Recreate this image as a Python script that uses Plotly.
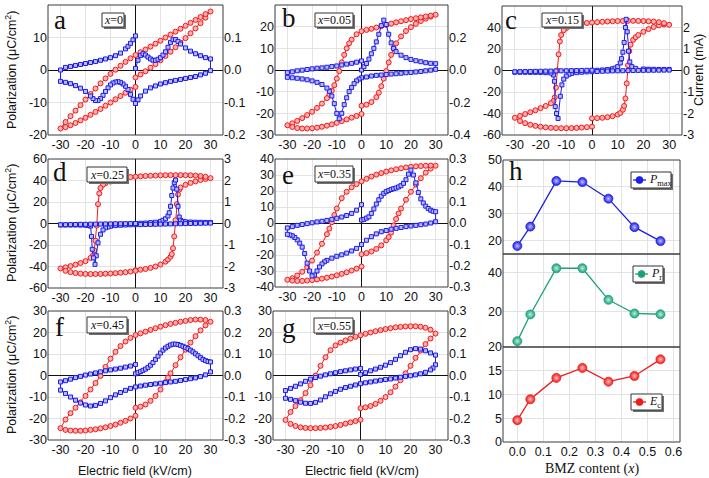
import plotly.graph_objects as go

W, H = 709, 478
RED = '#f21a1a'
RED_FILL = '#ffb0b0'
BLUE = '#1e1ee6'
BLUE_FILL = '#b8b8ff'
GREEN = '#1f9f7c'
FRAME = '#3a3a3a'
GRID = '#e3e3e3'
SANS = 'Liberation Sans, Arial, sans-serif'
SERIF = 'Liberation Serif, Times New Roman, serif'

# ---------------- tick values / labels ----------------
E_TICKS = [-30, -20, -10, 0, 10, 20, 30]
E_TICK_TEXT = ['-30', '-20', '-10', '0', '10', '20', '30']
P20_T = [-20, -10, 0, 10, 20]
P20_TT = ['-20', '-10', '0', '10', '20']
P30_T = [-30, -20, -10, 0, 10, 20, 30]
P30_TT = ['-30', '-20', '-10', '0', '10', '20', '30']
P40_T = [-40, -30, -20, -10, 0, 10, 20, 30, 40]
P40_TT = ['-40', '-30', '-20', '-10', '0', '10', '20', '30', '40']
P60_T = [-60, -40, -20, 0, 20, 40, 60]
P60_TT = ['-60', '-40', '-20', '0', '20', '40', '60']
I02_T = [-0.2, -0.1, 0, 0.1, 0.2]
I02_TT = ['-0.2', '-0.1', '0.0', '0.1', '0.2']
I04_T = [-0.4, -0.2, 0, 0.2, 0.4]
I04_TT = ['-0.4', '-0.2', '0.0', '0.2', '0.4']
I3_T = [-3, -2, -1, 0, 1, 2, 3]
I3_TT = ['-3', '-2', '-1', '0', '1', '2', '3']
I03_T = [-0.3, -0.2, -0.1, 0, 0.1, 0.2, 0.3]
I03_TT = ['-0.3', '-0.2', '-0.1', '0.0', '0.1', '0.2', '0.3']
BMZ_T = [0, 0.1, 0.2, 0.3, 0.4, 0.5, 0.6]
BMZ_TT = ['0.0', '0.1', '0.2', '0.3', '0.4', '0.5', '0.6']
PMAX_T = [20, 30, 40, 50]
PMAX_TT = ['20', '30', '40', '50']
PR_T = [20, 40]
PR_TT = ['20', '40']
EC_T = [0, 5, 10, 15, 20]
EC_TT = ['0', '5', '10', '15', '20']

# ---------------- panel a (x = 0) ----------------
A_FIELD_P = [0, 2, 4, 6, 8, 10, 12, 14, 16, 18, 20, 22, 24, 26, 28, 30,
             28, 26, 24, 22, 20, 18, 16, 14, 12, 10, 8, 6, 4, 2, 0, -2, -4, -6, -8, -10, -12, -14, -16, -18, -20, -22, -24, -26, -28, -30,
             -28, -26, -24, -22, -20, -18, -16, -14, -12, -10, -8, -6, -4, -2, 0]
A_POL = [-2.3, -1.4, -0.4, 0.7, 1.8, 3.0, 4.3, 5.6, 7.0, 8.4, 9.8, 11.3, 12.8, 14.4, 16.1, 18.0,
         17.2, 16.3, 15.4, 14.5, 13.6, 12.7, 11.8, 10.9, 10.0, 9.0, 8.1, 7.2, 6.3, 5.5, 4.6, 3.6, 2.5, 1.3, 0.1, -1.2, -2.6, -4.1, -5.7, -7.4, -9.1, -10.8, -12.5, -14.2, -16.0, -18.0,
         -17.6, -17.0, -16.3, -15.5, -14.7, -13.8, -12.9, -12.0, -11.0, -10.0, -9.0, -8.0, -7.0, -6.1, -5.2]
A_FIELD_I = [0, 1, 2, 3, 4, 5, 6, 7, 8, 9, 10, 11, 12, 13, 14, 15, 16, 17, 18, 20, 22, 24, 26, 28, 30,
             30, 28, 26, 24, 22, 20, 18, 16, 14, 12, 10, 8, 6, 4, 2, 1, 0, -1, -2, -3, -4, -5, -6, -7, -8, -9, -10, -11, -12, -13, -14, -15, -16, -17, -18, -20, -22, -24, -26, -28, -30,
             -30, -28, -26, -24, -22, -20, -18, -16, -14, -12, -10, -8, -6, -4, -3, -2, -1, 0]
A_CUR = [0.005, 0.03, 0.045, 0.05, 0.046, 0.04, 0.034, 0.03, 0.03, 0.033, 0.038, 0.046, 0.056, 0.07, 0.085, 0.093, 0.094, 0.088, 0.08, 0.068, 0.058, 0.05, 0.044, 0.038, 0.034,
         -0.002, -0.01, -0.015, -0.02, -0.023, -0.026, -0.029, -0.032, -0.035, -0.039, -0.043, -0.049, -0.055, -0.065, -0.08, -0.092, -0.103, -0.09, -0.075, -0.06, -0.05, -0.043, -0.038, -0.036, -0.037, -0.04, -0.046, -0.055, -0.066, -0.078, -0.088, -0.094, -0.094, -0.088, -0.08, -0.066, -0.056, -0.048, -0.042, -0.038, -0.035,
         0.0, 0.008, 0.011, 0.014, 0.017, 0.02, 0.023, 0.026, 0.03, 0.034, 0.038, 0.044, 0.052, 0.065, 0.073, 0.082, 0.093, 0.105]

# ---------------- panel b (x = 0.05) ----------------
B_FIELD_P = [0, 2, 4, 6, 7, 8, 9, 10, 11, 12, 13, 14, 16, 18, 20, 22, 24, 26, 28, 30,
             28, 26, 24, 22, 20, 18, 16, 14, 12, 10, 8, 6, 4, 2, 0, -2, -4, -5, -6, -7, -8, -9, -10, -11, -12, -13, -14, -16, -18, -20, -22, -24, -26, -28, -30,
             -28, -26, -24, -22, -20, -18, -16, -14, -12, -10, -8, -6, -4, -2, 0]
B_POL = [-16.5, -16.0, -14.8, -12.5, -10.5, -7.5, -4.0, -0.5, 3.5, 7.0, 10.0, 12.3, 15.5, 18.0, 19.8, 21.3, 22.6, 23.7, 24.6, 25.5,
         25.1, 24.7, 24.3, 23.9, 23.5, 23.0, 22.5, 22.0, 21.4, 20.8, 20.2, 19.6, 19.0, 18.5, 17.9, 16.5, 14.0, 12.3, 10.0, 7.0, 3.5, -0.5, -4.0, -7.0, -9.5, -11.5, -13.0, -15.5, -17.5, -19.3, -20.8, -22.2, -23.5, -24.6, -25.5,
         -26.3, -26.8, -27.0, -27.0, -26.9, -26.6, -26.2, -25.7, -25.1, -24.4, -23.6, -22.8, -22.0, -21.2, -20.3]
B_FIELD_I = [0, 1, 2, 3, 4, 5, 6, 7, 8, 9, 10, 11, 12, 13, 14, 16, 18, 20, 22, 24, 26, 28, 30,
             30, 28, 26, 24, 22, 20, 18, 16, 14, 12, 10, 8, 6, 4, 2, 0, -1, -2, -3, -4, -5, -6, -7, -8, -9, -10, -11, -12, -13, -14, -16, -18, -20, -22, -24, -26, -28, -30,
             -30, -28, -26, -24, -22, -20, -18, -16, -14, -12, -10, -8, -6, -4, -2, 0]
B_CUR = [0.0, 0.02, 0.04, 0.067, 0.1, 0.133, 0.173, 0.22, 0.273, 0.307, 0.28, 0.22, 0.167, 0.133, 0.113, 0.091, 0.076, 0.065, 0.057, 0.051, 0.045, 0.041, 0.039,
         0.004, -0.001, -0.005, -0.009, -0.012, -0.015, -0.017, -0.02, -0.023, -0.025, -0.028, -0.031, -0.033, -0.037, -0.043, -0.048, -0.056, -0.067, -0.084, -0.107, -0.133, -0.171, -0.213, -0.267, -0.3, -0.267, -0.207, -0.16, -0.131, -0.111, -0.089, -0.076, -0.067, -0.06, -0.055, -0.051, -0.048, -0.045,
         -0.016, -0.011, -0.005, -0.001, 0.003, 0.007, 0.011, 0.013, 0.017, 0.021, 0.025, 0.031, 0.036, 0.041, 0.048, 0.056]

# ---------------- panel c (x = 0.15) ----------------
C_FIELD_P = [0, 2, 4, 6, 8, 10, 11, 12, 12.5, 13, 13.5, 14, 14.5, 15, 16, 17, 18, 20, 22, 24, 26, 28, 30,
             28, 26, 24, 22, 20, 18, 16, 14, 12, 10, 8, 6, 4, 2, 0, -2, -4, -6, -8, -10, -11, -12, -12.5, -13, -13.5, -14, -14.5, -15, -16, -18, -20, -22, -24, -26, -28, -30,
             -28, -26, -24, -22, -20, -18, -16, -14, -12, -10, -8, -6, -4, -2, 0]
C_POL = [-44.5, -44.3, -44.0, -43.4, -42.5, -41.0, -39.5, -36.5, -33.0, -26.0, -12.0, 5.0, 18.0, 24.0, 28.5, 31.0, 33.0, 36.0, 38.5, 40.5, 42.0, 42.8, 42.5,
         44.0, 45.0, 45.5, 45.8, 46.0, 46.1, 46.2, 46.2, 46.1, 46.0, 45.8, 45.6, 45.3, 45.0, 44.6, 44.2, 43.6, 42.8, 41.5, 39.5, 37.5, 33.0, 27.0, 15.0, 0.0, -16.0, -25.0, -28.5, -30.5, -33.0, -35.0, -37.0, -38.8, -40.5, -42.3, -44.0,
         -47.0, -49.0, -50.5, -51.5, -52.3, -52.9, -53.3, -53.6, -53.7, -53.7, -53.6, -53.4, -53.1, -52.7, -52.2]
C_FIELD_I = [0, 2, 4, 6, 8, 9, 10, 11, 11.5, 12, 12.5, 13, 13.3, 13.7, 14.2, 14.7, 15.5, 17, 20, 22, 24, 26, 28, 30,
             30, 28, 26, 24, 22, 20, 18, 16, 14, 12, 10, 8, 6, 4, 2, 0, -2, -4, -6, -8, -9, -10, -11, -11.7, -12.3, -13.2, -13.8, -14.3, -14.6, -15, -16, -18, -20, -22, -24, -26, -28, -30,
             -30, -28, -26, -24, -22, -20, -18, -16, -14, -12, -10, -8, -6, -4, -2, 0]
C_CUR = [0.0, 0.01, 0.025, 0.045, 0.08, 0.11, 0.18, 0.35, 0.55, 0.85, 1.3, 2.0, 2.38, 1.8, 0.9, 0.4, 0.18, 0.1, 0.07, 0.06, 0.055, 0.05, 0.05, 0.05,
         0.02, 0.018, 0.015, 0.012, 0.01, 0.007, 0.004, 0.0, -0.005, -0.01, -0.015, -0.02, -0.027, -0.035, -0.045, -0.055, -0.065, -0.08, -0.1, -0.14, -0.18, -0.26, -0.4, -0.67, -1.2, -2.23, -2.0, -1.68, -0.5, -0.21, -0.12, -0.1, -0.09, -0.088, -0.085, -0.083, -0.08, -0.08,
         -0.06, -0.056, -0.05, -0.046, -0.04, -0.036, -0.03, -0.026, -0.02, -0.016, -0.012, -0.006, -0.002, 0.004, 0.008, 0.015]

# ---------------- panel d (x = 0.25) ----------------
D_FIELD_P = [0, 2, 4, 6, 8, 10, 12, 13, 14, 14.5, 15, 15.5, 16, 16.5, 17, 17.5, 18, 20, 22, 24, 26, 28, 30,
             28, 26, 24, 22, 20, 18, 16, 14, 12, 10, 8, 6, 4, 2, 0, -2, -4, -6, -8, -10, -12, -13, -14, -14.5, -15, -15.5, -16, -16.5, -17, -18, -20, -22, -24, -26, -28, -30,
             -28, -26, -24, -22, -20, -18, -16, -14, -12, -10, -8, -6, -4, -2, 0]
D_POL = [-43.5, -43.0, -42.3, -41.3, -40.0, -38.2, -35.5, -33.5, -31.0, -28.5, -23.0, -12.0, 3.0, 18.0, 27.0, 31.5, 33.5, 36.0, 37.8, 39.2, 40.4, 41.4, 42.2,
         43.5, 44.2, 44.6, 44.8, 44.9, 45.0, 45.0, 45.0, 44.9, 44.8, 44.6, 44.4, 44.2, 43.9, 43.6, 43.2, 42.6, 41.8, 40.6, 39.0, 37.5, 36.0, 33.0, 28.0, 18.0, -2.0, -16.0, -25.0, -29.5, -32.0, -35.0, -36.8, -38.3, -39.6, -40.8, -41.8,
         -44.0, -45.3, -46.1, -46.6, -46.9, -47.0, -47.0, -46.9, -46.7, -46.5, -46.2, -45.8, -45.3, -44.7, -44.0]
D_FIELD_I = [0, 2, 4, 6, 8, 10, 11, 12, 13, 13.5, 14, 14.5, 15, 15.5, 16, 16.5, 17, 17.5, 18, 19, 20, 22, 24, 26, 28, 30,
             30, 28, 26, 24, 22, 20, 18, 16, 14, 12, 10, 8, 6, 4, 2, 0, -2, -4, -6, -8, -10, -11, -12, -13, -14, -15, -15.7, -16.2, -16.8, -17.3, -17.6, -18, -19, -20, -22, -24, -26, -28, -30,
             -30, -28, -26, -24, -22, -20, -18, -16, -14, -12, -10, -8, -6, -4, -2, 0]
D_CUR = [0.0, 0.01, 0.02, 0.04, 0.06, 0.1, 0.15, 0.22, 0.35, 0.5, 0.8, 1.3, 1.65, 1.9, 2.02, 1.6, 0.8, 0.3, 0.15, 0.1, 0.08, 0.07, 0.06, 0.055, 0.05, 0.05,
         0.02, 0.015, 0.01, 0.005, 0.0, -0.005, -0.01, -0.015, -0.02, -0.025, -0.03, -0.035, -0.04, -0.045, -0.05, -0.055, -0.06, -0.07, -0.08, -0.1, -0.13, -0.16, -0.2, -0.3, -0.5, -0.9, -1.5, -1.9, -1.6, -1.2, -0.6, -0.12, -0.09, -0.08, -0.075, -0.07, -0.07, -0.07, -0.07,
         -0.06, -0.057, -0.05, -0.047, -0.04, -0.037, -0.03, -0.028, -0.025, -0.02, -0.018, -0.012, -0.01, -0.006, -0.004, 0.0]

# ---------------- panel e (x = 0.35) ----------------
E_FIELD_P = [0, 2, 4, 6, 8, 10, 11, 12, 13, 14, 15, 16, 18, 20, 22, 24, 26, 28, 30,
             28, 26, 24, 22, 20, 18, 16, 14, 12, 10, 8, 6, 4, 2, 0, -2, -4, -6, -8, -10, -11, -12, -13, -14, -16, -18, -20, -22, -24, -26, -28, -30,
             -28, -26, -24, -22, -20, -18, -16, -14, -12, -10, -8, -6, -4, -2, 0]
E_POL = [-19.5, -18.8, -17.8, -16.2, -14.0, -10.8, -8.8, -6.0, -1.5, 2.5, 6.0, 9.0, 14.5, 19.5, 24.0, 28.0, 31.5, 34.0, 35.8,
         35.9, 35.8, 35.6, 35.4, 35.1, 34.7, 34.2, 33.6, 32.9, 32.1, 31.2, 30.2, 29.0, 27.6, 26.0, 24.3, 22.3, 19.5, 15.5, 9.0, 5.0, 0.5, -3.5, -7.0, -13.0, -18.5, -23.5, -27.5, -30.5, -32.8, -34.5, -35.5,
         -36.0, -36.2, -36.2, -36.0, -35.7, -35.3, -34.8, -34.2, -33.5, -32.7, -31.8, -30.8, -29.7, -28.5, -27.2]
E_FIELD_I = [0, 1, 2, 3, 4, 5, 6, 7, 8, 9, 10, 11, 12, 13, 14, 15, 16, 17, 18, 19, 20, 21, 22, 23, 24, 25, 26, 27, 28, 29, 30,
             30, 28, 26, 24, 22, 20, 18, 16, 14, 12, 10, 8, 6, 4, 2, 0, -2, -4, -6, -8, -10, -12, -14, -15, -16, -17, -18, -19, -20, -21, -22, -23, -24, -25, -26, -27, -28, -29, -30,
             -30, -28, -26, -24, -22, -20, -18, -16, -14, -12, -10, -8, -6, -4, -2, 0]
E_CUR = [0.014, 0.017, 0.023, 0.029, 0.045, 0.066, 0.089, 0.109, 0.126, 0.139, 0.147, 0.152, 0.157, 0.161, 0.164, 0.169, 0.175, 0.186, 0.203, 0.229, 0.248, 0.225, 0.188, 0.143, 0.113, 0.094, 0.079, 0.068, 0.06, 0.055, 0.053,
         0.006, 0.0, -0.005, -0.008, -0.011, -0.014, -0.017, -0.021, -0.025, -0.029, -0.035, -0.041, -0.051, -0.064, -0.081, -0.101, -0.119, -0.131, -0.141, -0.149, -0.156, -0.165, -0.175, -0.182, -0.192, -0.206, -0.225, -0.244, -0.248, -0.225, -0.188, -0.143, -0.113, -0.094, -0.079, -0.068, -0.06, -0.056, -0.053,
         -0.023, -0.017, -0.011, -0.007, -0.003, 0.001, 0.005, 0.008, 0.012, 0.017, 0.022, 0.028, 0.035, 0.045, 0.06, 0.086]

# ---------------- panel f (x = 0.45) ----------------
F_FIELD_P = [0, 2, 4, 6, 8, 10, 12, 13, 14, 16, 18, 20, 22, 24, 26, 28, 30,
             28, 26, 24, 22, 20, 18, 16, 14, 12, 10, 8, 6, 4, 2, 0, -2, -4, -6, -8, -10, -12, -14, -16, -18, -20, -22, -24, -26, -28, -30,
             -28, -26, -24, -22, -20, -18, -16, -14, -12, -10, -8, -6, -4, -2, 0]
F_POL = [-15.0, -14.5, -13.5, -11.8, -9.5, -6.5, -3.0, -1.0, 1.0, 4.8, 8.5, 12.0, 15.3, 18.3, 21.0, 23.3, 25.0,
         25.8, 26.0, 26.0, 25.8, 25.4, 25.0, 24.5, 24.0, 23.4, 22.7, 22.0, 21.2, 20.4, 19.6, 18.8, 17.5, 15.8, 13.7, 11.0, 7.8, 4.0, -0.2, -3.5, -6.5, -9.5, -12.5, -15.0, -17.5, -20.5, -24.5,
         -25.3, -25.6, -25.7, -25.7, -25.6, -25.3, -25.0, -24.6, -24.1, -23.5, -22.8, -22.0, -21.1, -20.0, -18.7]
F_FIELD_I = [0, 1, 2, 3, 4, 5, 6, 7, 8, 9, 10, 11, 12, 13, 14, 15, 16, 17, 18, 19, 20, 21, 22, 23, 24, 25, 26, 27, 28, 29, 30,
             30, 28, 26, 24, 22, 20, 18, 16, 14, 12, 10, 8, 6, 4, 2, 0, -2, -4, -6, -8, -10, -12, -14, -16, -18, -20, -22, -24, -26, -28, -30,
             -30, -28, -26, -24, -22, -20, -18, -16, -14, -12, -10, -8, -6, -4, -2, 0]
F_CUR = [0.008, 0.013, 0.018, 0.024, 0.03, 0.038, 0.048, 0.06, 0.075, 0.09, 0.105, 0.118, 0.128, 0.136, 0.142, 0.146, 0.146, 0.144, 0.14, 0.136, 0.131, 0.125, 0.118, 0.11, 0.101, 0.092, 0.083, 0.075, 0.069, 0.065, 0.063,
         0.017, 0.003, -0.005, -0.011, -0.015, -0.019, -0.023, -0.027, -0.03, -0.033, -0.036, -0.039, -0.042, -0.045, -0.049, -0.053, -0.06, -0.069, -0.079, -0.09, -0.103, -0.118, -0.13, -0.139, -0.142, -0.137, -0.128, -0.115, -0.1, -0.084, -0.068,
         -0.03, -0.024, -0.017, -0.01, -0.004, 0.002, 0.007, 0.012, 0.017, 0.022, 0.026, 0.03, 0.034, 0.039, 0.044, 0.051]

# ---------------- panel g (x = 0.55) ----------------
G_FIELD_P = [0, 2, 4, 6, 8, 10, 12, 14, 16, 18, 20, 22, 24, 26, 28, 30,
             28, 26, 24, 22, 20, 18, 16, 14, 12, 10, 8, 6, 4, 2, 0, -2, -4, -6, -8, -10, -12, -14, -16, -18, -20, -22, -24, -26, -28, -30,
             -28, -26, -24, -22, -20, -18, -16, -14, -12, -10, -8, -6, -4, -2, 0]
G_POL = [-15.2, -14.8, -14.2, -13.2, -11.8, -10.0, -7.8, -5.2, -2.2, 1.0, 4.5, 8.2, 11.6, 14.6, 17.2, 19.5,
         21.3, 22.2, 22.7, 22.9, 22.9, 22.8, 22.6, 22.4, 22.0, 21.6, 21.1, 20.6, 20.0, 19.4, 18.7, 18.0, 17.2, 16.3, 15.3, 14.0, 11.8, 8.5, 4.5, 0.0, -4.5, -8.2, -11.5, -14.2, -17.0, -20.7,
         -22.5, -23.5, -24.1, -24.4, -24.5, -24.5, -24.4, -24.2, -23.9, -23.5, -23.0, -22.4, -21.8, -21.2, -20.6]
G_FIELD_I = [0, 2, 4, 6, 8, 10, 12, 14, 16, 18, 20, 22, 24, 26, 28, 30,
             30, 29, 28, 26, 24, 22, 20, 18, 16, 14, 12, 10, 8, 6, 4, 2, 0, -2, -4, -6, -8, -10, -12, -14, -16, -18, -20, -22, -24, -26, -28, -30,
             -30, -28, -26, -24, -22, -20, -18, -16, -14, -12, -10, -8, -6, -4, -2, 0]
G_CUR = [0.005, 0.013, 0.022, 0.03, 0.038, 0.048, 0.06, 0.075, 0.092, 0.108, 0.12, 0.125, 0.123, 0.115, 0.105, 0.095,
         0.05, 0.035, 0.026, 0.015, 0.008, 0.003, -0.001, -0.004, -0.008, -0.012, -0.016, -0.019, -0.022, -0.026, -0.03, -0.034, -0.038, -0.044, -0.05, -0.056, -0.064, -0.074, -0.085, -0.099, -0.114, -0.125, -0.13, -0.129, -0.124, -0.117, -0.111, -0.106,
         -0.07, -0.06, -0.05, -0.039, -0.027, -0.017, -0.009, -0.003, 0.003, 0.008, 0.013, 0.018, 0.022, 0.026, 0.03, 0.033]

# ---------------- panel h ----------------
BMZ_X = [0.0, 0.05, 0.15, 0.25, 0.35, 0.45, 0.55]
PMAX = [18.0, 25.2, 42.2, 41.8, 35.6, 25.0, 19.8]
PR = [5.0, 18.7, 42.4, 42.4, 26.2, 19.2, 18.8]
EC = [4.6, 9.0, 13.5, 15.6, 12.7, 13.9, 17.4]

SAMPLE_LABELS = ['0', '0.05', '0.15', '0.25', '0.35', '0.45', '0.55']
PANEL_LETTERS = ['a', 'b', 'c', 'd', 'e', 'f', 'g', 'h']

# ---------------- layout geometry (pixels) ----------------
BOX = [(48, 223, 5, 135), (275, 448, 5, 135), (502, 682, 6, 135),
       (48, 223, 159, 288), (275, 448, 159, 287),
       (48, 223, 311, 440), (273, 448, 311, 440)]
SAMPLE_BOX = [(102, 124, 13, 27), (315, 353, 13, 27), (542, 582, 13, 27),
              (87, 127, 167, 182), (315, 353, 166, 182),
              (87, 127, 317, 333), (314, 353, 318, 333)]
LETTER_POS = [(60, 20), (289, 18), (511, 20), (60, 172), (288, 175), (59, 327), (289, 328), (516, 171)]

panels = [
    (A_FIELD_P, A_POL, A_FIELD_I, A_CUR, P20_T, P20_TT, I02_T, I02_TT),
    (B_FIELD_P, B_POL, B_FIELD_I, B_CUR, P30_T, P30_TT, I04_T, I04_TT),
    (C_FIELD_P, C_POL, C_FIELD_I, C_CUR, P60_T, P60_TT, I3_T, I3_TT),
    (D_FIELD_P, D_POL, D_FIELD_I, D_CUR, P60_T, P60_TT, I3_T, I3_TT),
    (E_FIELD_P, E_POL, E_FIELD_I, E_CUR, P40_T, P40_TT, I03_T, I03_TT),
    (F_FIELD_P, F_POL, F_FIELD_I, F_CUR, P30_T, P30_TT, I03_T, I03_TT),
    (G_FIELD_P, G_POL, G_FIELD_I, G_CUR, P30_T, P30_TT, I03_T, I03_TT),
]
for p in panels:
    assert len(p[0]) == len(p[1]), (len(p[0]), len(p[1]))
    assert len(p[2]) == len(p[3]), (len(p[2]), len(p[3]))


def dx(x0, x1):
    return [x0 / W, x1 / W]


def dy(y0, y1):
    return [1 - y1 / H, 1 - y0 / H]


def ref(prefix, n):
    return prefix if n == 1 else f'{prefix}{n}'


TICKFONT = dict(family=SANS, size=12.5, color='#111')
fig = go.Figure()
layout = dict(template='none', width=W, height=H, margin=dict(l=0, r=0, t=0, b=0, pad=0), autosize=False,
              paper_bgcolor='white', plot_bgcolor='white', showlegend=False)
shapes = []
annotations = []

for i, (fp, pol, fi, cur, pt, ptt, it, itt) in enumerate(panels, start=1):
    x0, x1, y0, y1 = BOX[i - 1]
    xl = ref('x', i)
    yl = ref('y', 2 * i - 1)
    yr = ref('y', 2 * i)
    fig.add_trace(go.Scatter(x=fp, y=pol, xaxis=xl, yaxis=yl, mode='lines+markers',
                             line=dict(color=RED, width=1),
                             marker=dict(symbol='circle', size=5, color=RED_FILL, line=dict(color=RED, width=1)),
                             hoverinfo='skip'))
    fig.add_trace(go.Scatter(x=fi, y=cur, xaxis=xl, yaxis=yr, mode='lines+markers',
                             line=dict(color=BLUE, width=1),
                             marker=dict(symbol='square', size=4, color=BLUE_FILL, line=dict(color=BLUE, width=1)),
                             hoverinfo='skip'))
    layout[ref('xaxis', i)] = dict(domain=dx(x0, x1), range=[-35, 35], tickvals=E_TICKS, ticktext=E_TICK_TEXT,
                                   anchor=yl, showgrid=True, gridcolor=GRID, gridwidth=1, zeroline=True,
                                   zerolinecolor='#111', zerolinewidth=1, showline=False, ticks='',
                                   automargin=False, tickfont=TICKFONT)
    layout[ref('yaxis', 2 * i - 1)] = dict(domain=dy(y0, y1), range=[pt[0], pt[-1]], tickvals=pt, ticktext=ptt,
                                           anchor=xl, showgrid=True, gridcolor=GRID, gridwidth=1, zeroline=True,
                                           zerolinecolor='#111', zerolinewidth=1, showline=False, ticks='',
                                           automargin=False, tickfont=TICKFONT)
    layout[ref('yaxis', 2 * i)] = dict(overlaying=yl, side='right', anchor=xl, range=[it[0], it[-1]],
                                       tickvals=it, ticktext=itt, showgrid=False, zeroline=False,
                                       showline=False, ticks='', automargin=False, tickfont=TICKFONT)
    shapes.append(dict(type='rect', xref='paper', yref='paper', x0=x0 / W, x1=x1 / W, y0=1 - y1 / H, y1=1 - y0 / H,
                       line=dict(color=FRAME, width=1), layer='above'))
    # sample label box with shadow
    sx0, sx1, sy0, sy1 = SAMPLE_BOX[i - 1]
    shapes.append(dict(type='rect', xref='paper', yref='paper', x0=(sx0 + 2) / W, x1=(sx1 + 2) / W,
                       y0=1 - (sy1 + 2) / H, y1=1 - (sy0 + 2) / H, fillcolor='#707070',
                       line=dict(width=0), layer='above'))
    shapes.append(dict(type='rect', xref='paper', yref='paper', x0=sx0 / W, x1=sx1 / W,
                       y0=1 - sy1 / H, y1=1 - sy0 / H, fillcolor='white',
                       line=dict(color='#333', width=1), layer='above'))
    annotations.append(dict(x=(sx0 + sx1) / 2 / W, y=1 - (sy0 + sy1) / 2 / H, xref='paper', yref='paper',
                            text=f'<i>x</i>={SAMPLE_LABELS[i - 1]}', showarrow=False,
                            font=dict(family=SERIF, size=12, color='#111'), xanchor='center', yanchor='middle'))

# ---------------- panel h ----------------
HX0, HX1 = 503, 680
H_ROWS = [(160, 254), (254, 347), (347, 442)]
h_series = [(PMAX, BLUE, '#c0c0ff', PMAX_T, PMAX_TT, [15, 50]),
            (PR, GREEN, '#b8f0dc', PR_T, PR_TT, [2, 49.7]),
            (EC, RED, '#ffc0c0', EC_T, EC_TT, [0, 20])]
for k, (vals, col, hi, t, tt, rng) in enumerate(h_series):
    yn = 15 + k
    ry0, ry1 = H_ROWS[k]
    fig.add_trace(go.Scatter(x=BMZ_X, y=vals, xaxis='x8', yaxis=f'y{yn}', mode='lines+markers',
                             line=dict(color=col, width=1.3),
                             marker=dict(size=9, color=col, gradient=dict(type='radial', color=hi),
                                         line=dict(color=col, width=0.8)),
                             hoverinfo='skip'))
    layout[f'yaxis{yn}'] = dict(domain=dy(ry0, ry1), range=rng, tickvals=t, ticktext=tt, anchor='x8',
                                showgrid=True, gridcolor=GRID, zeroline=False, showline=False, ticks='',
                                automargin=False, tickfont=TICKFONT)
    shapes.append(dict(type='rect', xref='paper', yref='paper', x0=HX0 / W, x1=HX1 / W, y0=1 - ry1 / H,
                       y1=1 - ry0 / H, line=dict(color=FRAME, width=1), layer='above'))
layout['xaxis8'] = dict(domain=dx(HX0, HX1), range=[-0.055, 0.625], tickvals=BMZ_T, ticktext=BMZ_TT,
                        anchor='y17', showgrid=True, gridcolor=GRID, zeroline=False, showline=False, ticks='',
                        automargin=False, tickfont=TICKFONT)

# legends of panel h (drawn as boxes)
LEG = [(631, 671, 172, 188, BLUE, '<i>P</i><sub>max</sub>'),
       (633, 663, 266, 282, GREEN, '<i>P</i><sub>r</sub>'),
       (631, 662, 394, 410, RED, '<i>E</i><sub>c</sub>')]
for lx0, lx1, ly0, ly1, col, txt in LEG:
    shapes.append(dict(type='rect', xref='paper', yref='paper', x0=(lx0 + 2) / W, x1=(lx1 + 2) / W,
                       y0=1 - (ly1 + 2) / H, y1=1 - (ly0 + 2) / H, fillcolor='#707070', line=dict(width=0),
                       layer='above'))
    shapes.append(dict(type='rect', xref='paper', yref='paper', x0=lx0 / W, x1=lx1 / W,
                       y0=1 - ly1 / H, y1=1 - ly0 / H, fillcolor='white', line=dict(color='#333', width=1),
                       layer='above'))
    my = (ly0 + ly1) / 2
    shapes.append(dict(type='line', xref='paper', yref='paper', x0=(lx0 + 2) / W, x1=(lx0 + 15) / W,
                       y0=1 - my / H, y1=1 - my / H, line=dict(color=col, width=1.3), layer='above'))
    shapes.append(dict(type='circle', xref='paper', yref='paper', x0=(lx0 + 5) / W, x1=(lx0 + 12) / W,
                       y0=1 - (my + 3.5) / H, y1=1 - (my - 3.5) / H, fillcolor=col,
                       line=dict(color=col, width=0.8), layer='above'))
    annotations.append(dict(x=(lx0 + 16) / W, y=1 - my / H, xref='paper', yref='paper', text=txt,
                            showarrow=False, xanchor='left', yanchor='middle',
                            font=dict(family=SERIF, size=12, color='#111')))

# panel letters
for (lx, ly), letter in zip(LETTER_POS, PANEL_LETTERS):
    annotations.append(dict(x=lx / W, y=1 - ly / H, xref='paper', yref='paper', text=letter, showarrow=False,
                            xanchor='center', yanchor='middle', font=dict(family=SERIF, size=27, color='#111')))

# axis titles
TITLEFONT = dict(family=SANS, size=12.5, color='#111')
for cy in (70, 223, 375):
    annotations.append(dict(x=11 / W, y=1 - cy / H, xref='paper', yref='paper',
                            text='Polarization (μC/cm<sup>2</sup>)', textangle=-90, showarrow=False,
                            xanchor='center', yanchor='middle', font=TITLEFONT))
annotations.append(dict(x=699 / W, y=1 - 70 / H, xref='paper', yref='paper', text='Current (mA)', textangle=-90,
                        showarrow=False, xanchor='center', yanchor='middle', font=TITLEFONT))
for cx in (135, 362):
    annotations.append(dict(x=cx / W, y=1 - 471 / H, xref='paper', yref='paper', text='Electric field (kV/cm)',
                            showarrow=False, xanchor='center', yanchor='middle', font=TITLEFONT))
annotations.append(dict(x=592 / W, y=1 - 469 / H, xref='paper', yref='paper', text='BMZ content (<i>x</i>)',
                        showarrow=False, xanchor='center', yanchor='middle',
                        font=dict(family=SERIF, size=14, color='#111')))

layout['shapes'] = shapes
layout['annotations'] = annotations
fig.update_layout(**layout)
fig.write_html('out.html', config={'displayModeBar': False, 'staticPlot': True},
               post_script="document.body.style.margin='0';document.body.style.padding='0';"
                           "document.documentElement.style.overflow='hidden';")
